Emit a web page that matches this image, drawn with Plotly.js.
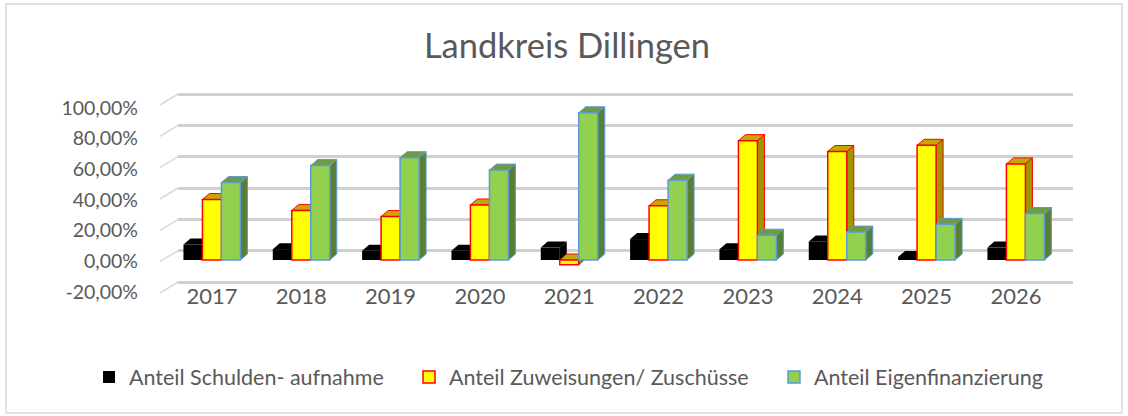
<!DOCTYPE html>
<html><head><meta charset="utf-8">
<script src="https://cdn.plot.ly/plotly-3.0.1.min.js"></script>
<style>html,body{margin:0;padding:0;background:#fff}#chart{width:1128px;height:416px}</style>
</head><body><div id="chart"></div>
<script>
// ---- data ----
const years = ['2017','2018','2019','2020','2021','2022','2023','2024','2025','2026'];
const schulden = [10, 7, 6, 6, 8, 13.5, 7, 12, 2, 8];
const zuweisungen = [39, 32, 28, 35.5, -3, 35, 77, 70, 74, 62];
const eigen = [50, 61, 66, 58, 95, 51.5, 16, 18, 23, 30];
const seriesNames = ['Anteil Schulden- aufnahme', 'Anteil Zuweisungen/ Zuschüsse', 'Anteil Eigenfinanzierung'];
const yTickVals = [-20, 0, 20, 40, 60, 80, 100];
const yTickText = yTickVals.map(v => v.toFixed(2).replace('.', ',') + '%');

// ---- style ----
const FONT = 'Lato, "Open Sans", sans-serif';
const TXT = '#595959';
const fill = ['#000000', '#ffff00', '#92d050'];
const edge = ['#000000', '#ff0000', '#5b9bd5'];
const topFill = ['#000000', '#c8a800', '#6f9a3f'];
const sideFill = ['#000000', '#9c9800', '#587f35'];
const PLOT_L = 178, PLOT_R = 1073, PLOT_T = 90, PLOT_B = 300;
const W = 1128, H = 416;
const xRange = [-0.38, 9.639];
const yRange = [-25.81, 109.68];     // bars (mid depth)
const yLabRange = [-25.22, 111.74];  // front labels
const yGridRange = [-31.49, 102.55]; // back wall grid
const BARGAP = 0.362;
const DEPTH_X = 7, DEPTH_Y = 6;

const series = [schulden, zuweisungen, eigen];
const xIdx = years.map((_, i) => i);
const pxPerCat = (PLOT_R - PLOT_L) / (xRange[1] - xRange[0]);
const pxPerPct = (PLOT_B - PLOT_T) / (yRange[1] - yRange[0]);
const pxPerPctGrid = (PLOT_B - PLOT_T) / (yGridRange[1] - yGridRange[0]);
const bw = (1 - BARGAP) / series.length;
const dx = DEPTH_X / pxPerCat, dy = DEPTH_Y / pxPerPct;

const traces = series.map((vals, s) => ({
  type: 'bar', x: xIdx, y: vals, name: seriesNames[s],
  marker: {color: fill[s], line: {color: edge[s], width: s === 0 ? 0 : 1.5}},
  legend: s === 0 ? 'legend' : 'legend' + (s + 1),
  hoverinfo: 'skip'
}));
traces.push({type: 'scatter', x: [0], y: [null], yaxis: 'y2', showlegend: false, hoverinfo: 'skip'});
traces.push({type: 'scatter', x: [0], y: [null], yaxis: 'y3', showlegend: false, hoverinfo: 'skip'});

const shapes = [];
series.forEach((vals, s) => {
  vals.forEach((v, i) => {
    const c = i + (s - 1) * bw;
    const xl = c - bw / 2, xr = c + bw / 2;
    const yt = Math.max(v, 0), yb = Math.min(v, 0);
    const lw = s === 0 ? 0 : 1;
    shapes.push({type: 'path', xref: 'x', yref: 'y', layer: 'between',
      path: `M${xr},${yb} L${xr + dx},${yb + dy} L${xr + dx},${yt + dy} L${xr},${yt} Z`,
      fillcolor: sideFill[s], line: {color: edge[s], width: lw}});
    shapes.push({type: 'path', xref: 'x', yref: 'y', layer: 'between',
      path: `M${xl},${yt} L${xl + dx},${yt + dy} L${xr + dx},${yt + dy} L${xr},${yt} Z`,
      fillcolor: topFill[s], line: {color: edge[s], width: lw}});
  });
});
// depth stubs at the left of each gridline
yTickVals.forEach(v => {
  shapes.push({type: 'line', xref: 'paper', yref: 'y2', layer: 'between',
    x0: (160 - PLOT_L) / (PLOT_R - PLOT_L), y0: v - 11 / pxPerPctGrid, x1: 0, y1: v,
    line: {color: '#d9d9d9', width: 1.5}});
});
// chart border
shapes.push({type: 'rect', xref: 'paper', yref: 'paper', layer: 'above',
  x0: (6 - PLOT_L) / (PLOT_R - PLOT_L), x1: (1122 - PLOT_L) / (PLOT_R - PLOT_L),
  y0: (PLOT_B - 413) / (PLOT_B - PLOT_T), y1: (PLOT_B - 4) / (PLOT_B - PLOT_T),
  line: {color: '#d9d9d9', width: 1.5}});

function legendAt(px) {
  return {orientation: 'h', xref: 'container', yref: 'container', x: px / W, y: 1 - 377 / H,
    xanchor: 'left', yanchor: 'middle', bgcolor: 'rgba(0,0,0,0)', font: {size: 21.5, color: TXT, family: FONT}};
}

const layout = {
  width: W, height: H,
  margin: {l: PLOT_L, r: W - PLOT_R, t: PLOT_T, b: H - PLOT_B},
  paper_bgcolor: '#ffffff', plot_bgcolor: 'rgba(0,0,0,0)',
  font: {family: FONT, color: TXT},
  title: {text: 'Landkreis Dillingen', font: {size: 34.5, color: TXT, family: FONT},
    x: 567 / W, xanchor: 'center', xref: 'container', y: 1 - 46 / H, yanchor: 'middle', yref: 'container'},
  barmode: 'group', bargap: BARGAP, bargroupgap: 0,
  showlegend: true,
  xaxis: {range: xRange, tickvals: xIdx, ticktext: years, showgrid: false, zeroline: false, showline: false,
    ticks: '', anchor: 'free', position: 0.09, tickfont: {size: 22, color: TXT}, fixedrange: true},
  yaxis: {range: yRange, showticklabels: false, showgrid: false, zeroline: false,
    showline: false, ticks: '', fixedrange: true},
  yaxis2: {range: yGridRange, overlaying: 'y', anchor: 'x', side: 'left', tickvals: yTickVals,
    showticklabels: false, showgrid: true, gridcolor: '#d0d0d0', gridwidth: 3, zeroline: false, ticks: '', fixedrange: true},
  yaxis3: {range: yLabRange, overlaying: 'y', anchor: 'x', side: 'left', tickvals: yTickVals, ticktext: yTickText,
    showgrid: false, zeroline: false, showline: false, ticks: '', tickfont: {size: 19.5, color: TXT},
    ticklabelstandoff: 39, fixedrange: true},
  legend: legendAt(89), legend2: legendAt(409), legend3: legendAt(774),
  shapes: shapes
};

Plotly.newPlot('chart', traces, layout, {staticPlot: true, displayModeBar: false});
</script></body></html>
